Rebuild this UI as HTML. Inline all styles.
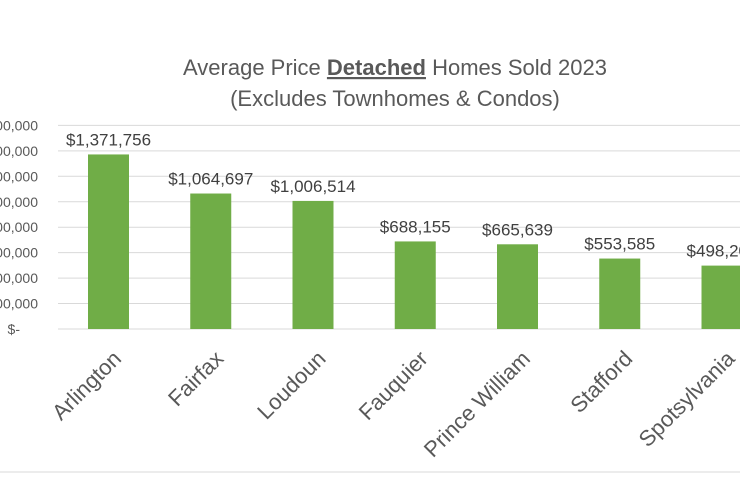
<!DOCTYPE html>
<html><head><meta charset="utf-8"><style>
body{margin:0;background:#fff;width:740px;height:474px;overflow:hidden;font-family:"Liberation Sans",sans-serif;}
</style></head><body>
<svg width="740" height="474" id="c" style="font-family:'Liberation Sans',sans-serif">
<line x1="0" y1="472" x2="740" y2="472" stroke="#d9d9d9"/>
<text x="395" y="75" text-anchor="middle" font-size="22" fill="#595959">Average Price <tspan font-weight="bold" text-decoration="underline">Detached</tspan> Homes Sold 2023</text>
<text x="395" y="106" text-anchor="middle" font-size="22" fill="#595959">(Excludes Townhomes &amp; Condos)</text>
</svg>
<script>
const categories=["Arlington","Fairfax","Loudoun","Fauquier","Prince William","Stafford","Spotsylvania"];
const values=[1371756,1064697,1006514,688155,665639,553585,498200];
const valueLabels=["$1,371,756","$1,064,697","$1,006,514","$688,155","$665,639","$553,585","$498,200"];
const ticks=[0,200000,400000,600000,800000,1000000,1200000,1400000,1600000];
const tickLabels=["$-","$200,000","$400,000","$600,000","$800,000","$1,000,000","$1,200,000","$1,400,000","$1,600,000"];
const svg=document.getElementById('c');const NS="http://www.w3.org/2000/svg";
const y0=329,pxPer=25.45/200000;
function y(v){return y0-v*pxPer;}
function x(i){return 108.5+102.25*i;}
function mk(t,a,p){const e=document.createElementNS(NS,t);for(const k in a)e.setAttribute(k,a[k]);(p||svg).appendChild(e);return e;}
ticks.forEach((t,i)=>{
 const l=mk('line',{x1:58,x2:740,y1:y(t),y2:y(t),stroke:'#d9d9d9'});
 
 
 const tx=mk('text',{x:i==0?20:38,y:y(t)+5,'text-anchor':'end','font-size':14,fill:'#595959'});
 tx.textContent=tickLabels[i];
 
 
});
categories.forEach((c,i)=>{
 const b=mk('rect',{x:x(i)-20.5,y:y(values[i]),width:41,height:y0-y(values[i]),fill:'#70ad47'});
 
 
 const vl=mk('text',{x:x(i),y:y(values[i])-9,'text-anchor':'middle','font-size':17,fill:'#404040'});
 vl.textContent=valueLabels[i];
 
 
 const cx=x(i)+14,cy=360;
 const cl=mk('text',{x:cx,y:cy,'text-anchor':'end','font-size':22,fill:'#595959',transform:`rotate(-45 ${cx} ${cy})`});
 cl.textContent=c;
 
 
});
</script>
</body></html>
